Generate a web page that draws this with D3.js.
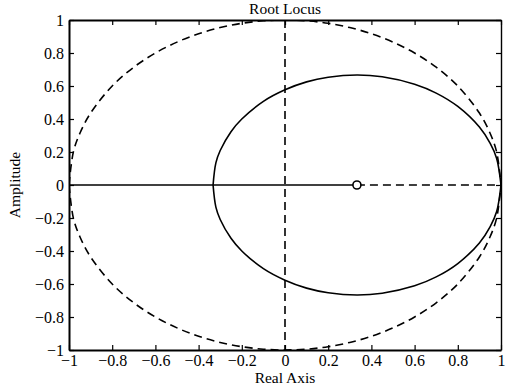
<!DOCTYPE html>
<html>
<head>
<meta charset="utf-8">
<script src="https://cdn.jsdelivr.net/npm/d3@7"></script>
<style>
  body { margin: 0; background: #fff; }
  text { font-family: "Liberation Serif", "DejaVu Serif", serif; fill: #000; }
</style>
</head>
<body>
<div id="chart"></div>
<script>
// axis ticks
var xTicks = [-1, -0.8, -0.6, -0.4, -0.2, 0, 0.2, 0.4, 0.6, 0.8, 1];
var yTicks = [-1, -0.8, -0.6, -0.4, -0.2, 0, 0.2, 0.4, 0.6, 0.8, 1];

// unit circle (dashed), upper half
var unitX = [-1, -0.98, -0.95, -0.9, -0.8, -0.7, -0.6, -0.5, -0.4, -0.3, -0.2, -0.1, 0, 0.1, 0.2, 0.3, 0.4, 0.5, 0.6, 0.7, 0.8, 0.9, 0.95, 0.98, 1];
var unitY = [0, 0.199, 0.312, 0.436, 0.6, 0.714, 0.8, 0.866, 0.917, 0.954, 0.98, 0.995, 1, 0.995, 0.98, 0.954, 0.917, 0.866, 0.8, 0.714, 0.6, 0.436, 0.312, 0.199, 0];

// root locus branch (solid), upper half
var locusX = [-0.333, -0.32, -0.3, -0.25, -0.2, -0.1, 0, 0.1, 0.2, 0.333, 0.45, 0.6, 0.7, 0.8, 0.9, 0.95, 0.98, 1];
var locusY = [0, 0.134, 0.209, 0.323, 0.4, 0.507, 0.577, 0.625, 0.653, 0.667, 0.656, 0.611, 0.557, 0.476, 0.351, 0.252, 0.161, 0];

// real axis segments
var realSolid = [-1, 0.333];
var realDashed = [0.333, 1];
var zeroX = 0.333;

var margin = {top: 20, right: 14, bottom: 36, left: 69},
  width = 515 - margin.left - margin.right,
  height = 386 - margin.top - margin.bottom;

var svg = d3.select("#chart").append("svg")
  .attr("width", 515)
  .attr("height", 386);

var g = svg.append("g")
  .attr("transform", "translate(" + margin.left + "," + margin.top + ")");

var x = d3.scaleLinear().domain([-1, 1]).range([0, width]);
var y = d3.scaleLinear().domain([-1, 1]).range([height, 0]);

function fmt(d) {
  return d === 0 ? "0" : d3.format("")(d).replace("-", "\u2212");
}

// clip so curves stay inside the box
g.append("clipPath").attr("id", "clip")
  .append("rect").attr("width", width).attr("height", height);

var plot = g.append("g").attr("clip-path", "url(#clip)");

var line = d3.line()
  .x(function(d) { return x(d[0]); })
  .y(function(d) { return y(d[1]); })
  .curve(d3.curveCatmullRom);

var unitUp = unitX.map(function(v, i) { return [v, unitY[i]]; });
var unitDown = unitX.map(function(v, i) { return [v, -unitY[i]]; });
var locUp = locusX.map(function(v, i) { return [v, locusY[i]]; });
var locDown = locusX.map(function(v, i) { return [v, -locusY[i]]; });

[unitUp, unitDown].forEach(function(pts) {
  plot.append("path")
    .attr("d", line(pts))
    .attr("fill", "none")
    .attr("stroke", "#000")
    .attr("stroke-width", 1.6)
    .attr("stroke-dasharray", "8,5");
});

[locUp, locDown].forEach(function(pts) {
  plot.append("path")
    .attr("d", line(pts))
    .attr("fill", "none")
    .attr("stroke", "#000")
    .attr("stroke-width", 1.6);
});

// vertical dashed line at 0
plot.append("line")
  .attr("x1", x(0)).attr("x2", x(0))
  .attr("y1", y(1)).attr("y2", y(-1))
  .attr("stroke", "#000")
  .attr("stroke-width", 1.6)
  .attr("stroke-dasharray", "8,5");

plot.append("line")
  .attr("x1", x(realSolid[0])).attr("x2", x(realSolid[1]))
  .attr("y1", y(0)).attr("y2", y(0))
  .attr("stroke", "#000")
  .attr("stroke-width", 1.6);

plot.append("line")
  .attr("x1", x(realDashed[0])).attr("x2", x(realDashed[1]))
  .attr("y1", y(0)).attr("y2", y(0))
  .attr("stroke", "#000")
  .attr("stroke-width", 1.6)
  .attr("stroke-dasharray", "8,5");

// zero marker
g.append("circle")
  .attr("cx", x(zeroX)).attr("cy", y(0))
  .attr("r", 4)
  .attr("fill", "#fff")
  .attr("stroke", "#000")
  .attr("stroke-width", 1.6);

// axes
function styleAxis(sel, w) {
  sel.select(".domain").attr("stroke-width", w);
  sel.selectAll(".tick line").attr("stroke-width", 1.2);
  sel.selectAll("text").style("font-size", "16px").style("font-family", "Liberation Serif, serif");
}

g.append("g").attr("transform", "translate(0," + height + ")")
  .call(d3.axisBottom(x).tickValues(xTicks).tickFormat(fmt).tickSizeInner(-5).tickSizeOuter(0).tickPadding(5))
  .call(styleAxis, 2);

g.append("g")
  .call(d3.axisLeft(y).tickValues(yTicks).tickFormat(fmt).tickSizeInner(-5).tickSizeOuter(0).tickPadding(5))
  .call(styleAxis, 2);

g.append("g")
  .call(d3.axisTop(x).tickValues(xTicks).tickFormat("").tickSizeInner(-5).tickSizeOuter(0))
  .call(styleAxis, 2);

g.append("g").attr("transform", "translate(" + width + ",0)")
  .call(d3.axisRight(y).tickValues(yTicks).tickFormat("").tickSizeInner(-5).tickSizeOuter(0))
  .call(styleAxis, 1.4);

// labels
svg.append("text")
  .attr("x", margin.left + width / 2)
  .attr("y", 14)
  .attr("text-anchor", "middle")
  .style("font-size", "15.5px")
  .text("Root Locus");

svg.append("text")
  .attr("x", margin.left + width / 2)
  .attr("y", 383)
  .attr("text-anchor", "middle")
  .style("font-size", "15.5px")
  .text("Real Axis");

svg.append("text")
  .attr("transform", "translate(20," + (margin.top + height / 2) + ")rotate(-90)")
  .attr("text-anchor", "middle")
  .style("font-size", "15.5px")
  .text("Amplitude");
</script>
</body>
</html>
